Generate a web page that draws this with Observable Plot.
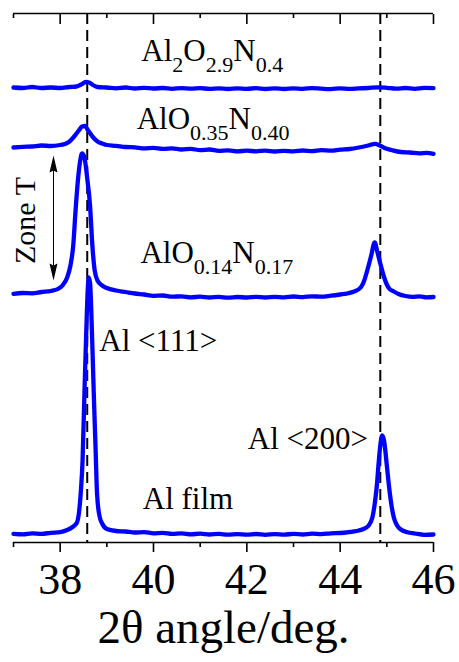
<!DOCTYPE html>
<html><head><meta charset="utf-8">
<script src="https://cdn.jsdelivr.net/npm/d3@7"></script>
<script src="https://cdn.jsdelivr.net/npm/@observablehq/plot@0.6"></script>
<style>
html,body{margin:0;padding:0;background:#fff;}
#chart svg{display:block;}
#chart svg text{font-family:'Liberation Serif','Times New Roman',Times,serif;}
</style>
</head><body><div id="chart"></div>
<script>
// ---- data (2θ angle in degrees, stacked intensity in arbitrary units) ----
const seriesNames = ["Al2O2.9N0.4", "AlO0.35N0.40", "AlO0.14N0.17", "Al film"];

const al2o29n04 = [[37.0,455],[37.2,454.5],[37.4,455.5],[37.6,454.5],[37.8,455],[38.0,454.5],[38.2,455.5],[38.35,456],[38.45,458],[38.55,460.5],[38.62,460],[38.7,457.5],[38.8,455.5],[39.0,455],[39.2,454.2],[39.4,455],[39.6,454],[39.8,454.7],[40.0,454],[40.2,454.5],[40.4,453.7],[40.6,454.4],[40.8,453.8],[41.0,454.4],[41.2,453.6],[41.4,454.2],[41.6,453.5],[41.8,454.2],[42.0,453.7],[42.2,454.3],[42.4,453.5],[42.6,454.1],[42.8,453.5],[43.0,454.2],[43.2,453.7],[43.4,454.4],[43.6,453.8],[43.8,453.4],[44.0,454.2],[44.2,453.6],[44.4,454.1],[44.6,454.5],[44.8,455.2],[45.0,454.7],[45.2,453.8],[45.4,454.5],[45.6,453.7],[45.8,454.6],[46.0,454.4]];

const alo035n040 = [[37.0,395],[37.2,395.7],[37.4,396],[37.6,397],[37.8,396.5],[38.0,397.5],[38.1,398.5],[38.2,401],[38.3,406],[38.4,412],[38.47,416],[38.53,416.5],[38.6,412],[38.7,405.5],[38.8,401],[38.9,399],[39.0,397.5],[39.2,396.7],[39.4,395.5],[39.6,395.2],[39.8,394.2],[40.0,394.7],[40.2,393.7],[40.4,394.2],[40.6,393],[40.8,393.6],[41.0,392.4],[41.2,393],[41.4,391.7],[41.6,392.2],[41.8,391.2],[42.0,391.8],[42.2,391.2],[42.4,391.9],[42.6,391],[42.8,391.7],[43.0,391.2],[43.2,392],[43.4,391.4],[43.6,392.4],[43.8,391.8],[44.0,392.8],[44.2,393.5],[44.4,395],[44.6,397],[44.75,398.7],[44.85,397],[44.95,394.5],[45.1,392.5],[45.3,390.5],[45.5,390],[45.7,389.2],[45.85,389.7],[46.0,388.7]];

const alo014n017 = [[37.0,248.7],[37.2,249.5],[37.4,249.2],[37.6,250.5],[37.8,251.5],[37.95,253.5],[38.05,257],[38.15,265],[38.22,277],[38.28,297],[38.33,332],[38.38,362],[38.43,382],[38.47,389],[38.52,385],[38.58,364],[38.64,337],[38.69,297],[38.74,272],[38.8,262],[38.9,257],[39.0,254.5],[39.2,252],[39.4,250.5],[39.6,249],[39.8,248],[40.0,246.7],[40.2,247],[40.4,245.8],[40.6,246.2],[40.8,245.2],[41.0,245.8],[41.2,245],[41.4,245.6],[41.6,244.8],[41.8,245.5],[42.0,245],[42.2,245.7],[42.4,245],[42.6,245.6],[42.8,245.1],[43.0,246],[43.2,245.4],[43.4,246.2],[43.6,245.8],[43.8,246.8],[44.0,248],[44.15,249],[44.3,251],[44.44,255],[44.5,260],[44.58,272],[44.66,286],[44.74,300],[44.8,290],[44.86,279],[44.93,267],[45.0,258],[45.05,254],[45.15,251],[45.25,248.5],[45.4,246.5],[45.55,245.7],[45.7,246.2],[45.85,245.2],[46.0,245.5]];

const alFilm = [[37.0,8.7],[37.2,8.2],[37.4,9.2],[37.6,8.7],[37.8,9.7],[38.0,10.3],[38.15,12.5],[38.26,15.3],[38.36,20],[38.44,49],[38.48,82],[38.52,149],[38.56,212],[38.59,252],[38.61,265],[38.64,260],[38.68,212],[38.72,149],[38.76,92],[38.79,49],[38.84,27],[38.9,19],[39.0,13.5],[39.2,11.5],[39.4,11],[39.6,10],[39.8,10.4],[40.0,9.2],[40.2,9.6],[40.4,8.6],[40.6,9.2],[40.8,8.2],[41.0,8.8],[41.2,8],[41.4,8.6],[41.6,7.8],[41.8,8.4],[42.0,7.8],[42.2,8.5],[42.4,7.7],[42.6,8.4],[42.8,7.9],[43.0,8.6],[43.2,8],[43.4,8.8],[43.6,8.4],[43.8,9.2],[44.0,9.5],[44.2,10.5],[44.35,11.5],[44.5,13.5],[44.6,16.5],[44.69,25],[44.75,42],[44.79,59],[44.82,77],[44.86,97],[44.9,107],[44.94,102],[45.0,77],[45.04,59],[45.1,37],[45.15,25],[45.22,17],[45.3,13],[45.44,10.3],[45.6,9],[45.8,7.7],[46.0,8]];

const traces = [al2o29n04, alo035n040, alo014n017, alFilm];

// reference peak positions (dashed lines)
const refPeaks = [38.58, 44.86];

// axis ticks
const xDomain = [37, 46];
const yDomain = [0, 529];
const majorTicks = [38, 40, 42, 44, 46];
const minorTicks = [37, 39, 41, 43, 45];
const xTitle = "2θ angle/deg.";

// annotations
const labelText  = ["Al_2O_2.9N_0.4", "AlO_0.35N_0.40", "AlO_0.14N_0.17", "Al <111>", "Al <200>", "Al film"];
const labelAngle = [39.74, 39.64, 39.72, 38.84, 42.02, 39.77];
const labelLevel = [482, 414, 280, 192, 94, 34];

const zoneText = "Zone T";
const zoneTextAngle = 37.264;
const zoneTextLevel = 322;
const zoneArrowAngle = 37.857;
const zoneArrowEnds = [387, 262];

// ---- build tables ----
const rows = traces.flatMap((t, i) => t.map(([a, v]) => ({series: seriesNames[i], angle: a, value: v})));
const labels = labelText.map((t, i) => ({text: t, angle: labelAngle[i], level: labelLevel[i]}));
const heads = [
  {angle: zoneArrowAngle, level: zoneArrowEnds[0], rot: 0},
  {angle: zoneArrowAngle, level: zoneArrowEnds[1], rot: 180}
];

const headSymbol = {
  draw(ctx) {
    ctx.moveTo(0, 0);
    ctx.lineTo(4, 17);
    ctx.lineTo(0, 15);
    ctx.lineTo(-4, 17);
    ctx.closePath();
  }
};

const serif = "'Liberation Serif', 'Times New Roman', Times, serif";

const chart = Plot.plot({
  width: 459,
  height: 662,
  marginLeft: 13,
  marginRight: 26,
  marginTop: 13,
  marginBottom: 120,
  style: {fontFamily: serif, background: "white", color: "black"},
  x: {domain: xDomain, axis: null},
  y: {domain: yDomain, axis: null},
  marks: [
    Plot.ruleX(refPeaks, {stroke: "black", strokeWidth: 2, strokeDasharray: "11,6"}),
    Plot.line(rows, {x: "angle", y: "value", z: "series", stroke: "#0000ff", strokeWidth: 4.3, curve: "monotone-x", strokeLinejoin: "round"}),
    Plot.ruleY([yDomain[0]], {stroke: "black", strokeWidth: 1.6}),
    Plot.ruleY([yDomain[1]], {stroke: "black", strokeWidth: 1.6}),
    Plot.axisX({anchor: "bottom", ticks: majorTicks, tickSize: 10, tickPadding: 10, strokeWidth: 1.6, fontSize: 44, fontFamily: serif, fill: "black", label: null}),
    Plot.axisX({anchor: "bottom", ticks: minorTicks, tickSize: 5, strokeWidth: 1.6, tickFormat: () => "", label: null}),
    Plot.axisX({anchor: "top", ticks: majorTicks, tickSize: 10, dy: 10, strokeWidth: 1.6, tickFormat: () => "", label: null}),
    Plot.axisX({anchor: "top", ticks: minorTicks, tickSize: 4, dy: 4, strokeWidth: 1.6, tickFormat: () => "", label: null}),
    Plot.text([xTitle], {x: () => (xDomain[0] + xDomain[1]) / 2, frameAnchor: "bottom", dy: 100, text: d => d, fontSize: 47, fontFamily: serif, fill: "black", textAnchor: "middle", lineAnchor: "bottom"}),
    Plot.text(labels, {x: "angle", y: "level", text: "text", fontSize: 31, fontFamily: serif, fill: "black", textAnchor: "start", lineAnchor: "bottom"}),
    Plot.text([zoneText], {x: () => zoneTextAngle, y: () => zoneTextLevel, text: d => d, rotate: -90, fontSize: 30, fontFamily: serif, fill: "black", textAnchor: "middle", lineAnchor: "middle"}),
    Plot.link([zoneArrowEnds], {x1: () => zoneArrowAngle, x2: () => zoneArrowAngle, y1: d => d[0] - 8, y2: d => d[1] + 8, stroke: "black", strokeWidth: 1}),
    Plot.dot(heads, {x: "angle", y: "level", rotate: "rot", symbol: headSymbol, fill: "black", stroke: "none", r: 4})
  ]
});

// subscripts for the chemical formulas
const NS = "http://www.w3.org/2000/svg";
d3.select(chart).selectAll("text").each(function () {
  const t = this.textContent;
  if (!t.includes("_")) return;
  const parts = t.split(/_([0-9.]+)/);
  while (this.firstChild) this.removeChild(this.firstChild);
  let prevSub = false;
  parts.forEach((p, i) => {
    if (!p) return;
    const ts = document.createElementNS(NS, "tspan");
    ts.textContent = p;
    if (i % 2 === 1) {
      ts.setAttribute("font-size", 22);
      ts.setAttribute("dy", 11);
      prevSub = true;
    } else if (prevSub) {
      ts.setAttribute("dy", -11);
      prevSub = false;
    }
    this.appendChild(ts);
  });
});

document.getElementById("chart").appendChild(chart);
</script>
</body></html>
